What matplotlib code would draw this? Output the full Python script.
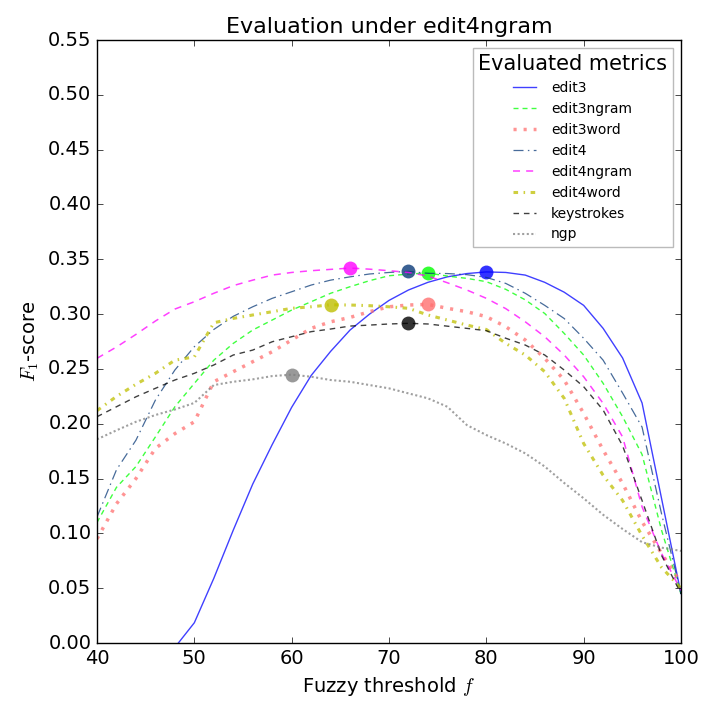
import numpy as np
import matplotlib
matplotlib.use("Agg")
import matplotlib.pyplot as plt

# fuzzy thresholds
thresholds = np.arange(40, 101, 2)

# F1 scores per evaluated metric
edit3 = [-0.12, -0.09, -0.065, -0.035, -0.004, 0.0185, 0.059, 0.103, 0.145, 0.181,
         0.215, 0.244, 0.266, 0.2855, 0.300, 0.3125, 0.322, 0.329, 0.334, 0.337,
         0.3385, 0.338, 0.3356, 0.329, 0.320, 0.308, 0.287, 0.260, 0.219, 0.132, 0.045]
edit3ngram = [0.110, 0.142, 0.161, 0.188, 0.2155, 0.2368, 0.258, 0.2733, 0.2855, 0.2946,
              0.3037, 0.3113, 0.319, 0.325, 0.3305, 0.335, 0.3365, 0.3375, 0.3347, 0.3326,
              0.3296, 0.3226, 0.313, 0.3006, 0.2824, 0.2627, 0.2369, 0.2065, 0.172, 0.103, 0.045]
edit3word = [0.095, 0.127, 0.150, 0.1775, 0.191, 0.2018, 0.2383, 0.2475, 0.2566, 0.2657,
             0.2764, 0.287, 0.293, 0.297, 0.3022, 0.3067, 0.3083, 0.3089, 0.3053, 0.3022,
             0.2977, 0.2885, 0.2764, 0.2597, 0.2399, 0.2095, 0.176, 0.1456, 0.1107, 0.0818, 0.055]
edit4 = [0.115, 0.158, 0.185, 0.2216, 0.249, 0.2703, 0.286, 0.298, 0.3067, 0.3144,
         0.3204, 0.3265, 0.331, 0.334, 0.3366, 0.338, 0.339, 0.3372, 0.337, 0.336,
         0.3335, 0.328, 0.319, 0.308, 0.296, 0.278, 0.258, 0.228, 0.197, 0.118, 0.045]
edit4ngram = [0.2597, 0.270, 0.2815, 0.2937, 0.3046, 0.3113, 0.319, 0.326, 0.331, 0.3356,
              0.338, 0.3396, 0.3408, 0.342, 0.341, 0.3396, 0.338, 0.3347, 0.3286, 0.322,
              0.3144, 0.305, 0.293, 0.2794, 0.2627, 0.2429, 0.2186, 0.188, 0.1243, 0.0818, 0.048]
edit4word = [0.212, 0.2249, 0.236, 0.246, 0.258, 0.261, 0.2921, 0.2961, 0.2992, 0.3022,
             0.3053, 0.3067, 0.3085, 0.3083, 0.3077, 0.3067, 0.3053, 0.2992, 0.2946, 0.290,
             0.286, 0.2733, 0.2627, 0.2475, 0.2232, 0.182, 0.153, 0.130, 0.098, 0.069, 0.050]
keystrokes = [0.2064, 0.2155, 0.2246, 0.2323, 0.2399, 0.246, 0.2536, 0.2627, 0.2672, 0.2748,
              0.2794, 0.284, 0.2864, 0.2891, 0.290, 0.291, 0.2916, 0.291, 0.289, 0.287,
              0.2849, 0.278, 0.2718, 0.2627, 0.249, 0.2338, 0.2125, 0.180, 0.130, 0.080, 0.045]
ngp = [0.1858, 0.194, 0.2018, 0.208, 0.213, 0.219, 0.2353, 0.2383, 0.2405, 0.2435,
       0.2448, 0.2429, 0.2399, 0.2383, 0.2353, 0.2323, 0.2277, 0.2232, 0.2155, 0.1988,
       0.1897, 0.182, 0.173, 0.161, 0.146, 0.132, 0.117, 0.104, 0.092, 0.087, 0.084]

# dashes are given in units of line width (scale_dashes on)
series = [
    ("edit3", edit3, dict(color="b", lw=1, ls="-")),
    ("edit3ngram", edit3ngram, dict(color="#00ff00", lw=1, dashes=(3.6, 2.9))),
    ("edit3word", edit3word, dict(color="#ff7070", lw=2.5, dashes=(0.9, 2.0))),
    ("edit4", edit4, dict(color="#0a3a78", lw=0.9, dashes=(8, 3.5, 1.2, 3.5))),
    ("edit4ngram", edit4ngram, dict(color="#ff00ff", lw=1.1, dashes=(4.6, 4))),
    ("edit4word", edit4word, dict(color="#bfbf00", lw=2.2, dashes=(1.5, 1.8, 0.5, 1.8))),
    ("keystrokes", keystrokes, dict(color="k", lw=1, dashes=(4, 3.5))),
    ("ngp", ngp, dict(color="grey", lw=1.5, dashes=(1, 1.2))),
]

plt.style.use("classic")
plt.rcParams["mathtext.fontset"] = "cm"
plt.rcParams["lines.scale_dashes"] = True

fig = plt.figure(figsize=(7.04, 7.06), dpi=100, facecolor="white")
ax = fig.add_axes([0.1378, 0.0892, 0.8295, 0.8541])

for name, values, style in series:
    values = np.array(values)
    ax.plot(thresholds, values, alpha=0.75, label=name, **style)
    best = np.argmax(values)
    ax.plot(thresholds[best], values[best], "o", color=style["color"],
            alpha=0.8, ms=10, mew=0)

ax.set_xlim(40, 100)
ax.set_ylim(0, 0.55)
ax.set_xticks(np.arange(40, 101, 10))
ax.set_yticks(np.arange(0, 0.551, 0.05))
ax.tick_params(labelsize=14)
ax.set_xlabel("Fuzzy threshold $f$", fontsize=14)
ax.set_ylabel("$F_1$-score", fontsize=14)
ax.set_title("Evaluation under edit4ngram", fontsize=16)

leg = ax.legend(loc="upper right", title="Evaluated metrics", fontsize=10,
                numpoints=1, handlelength=1.6, handletextpad=1.1,
                labelspacing=0.5, borderpad=0.4, borderaxespad=0.6)
leg.get_title().set_fontsize(15)
leg.get_frame().set_edgecolor("#bbbbbb")

fig.savefig("out.png", dpi=100, facecolor="white")
